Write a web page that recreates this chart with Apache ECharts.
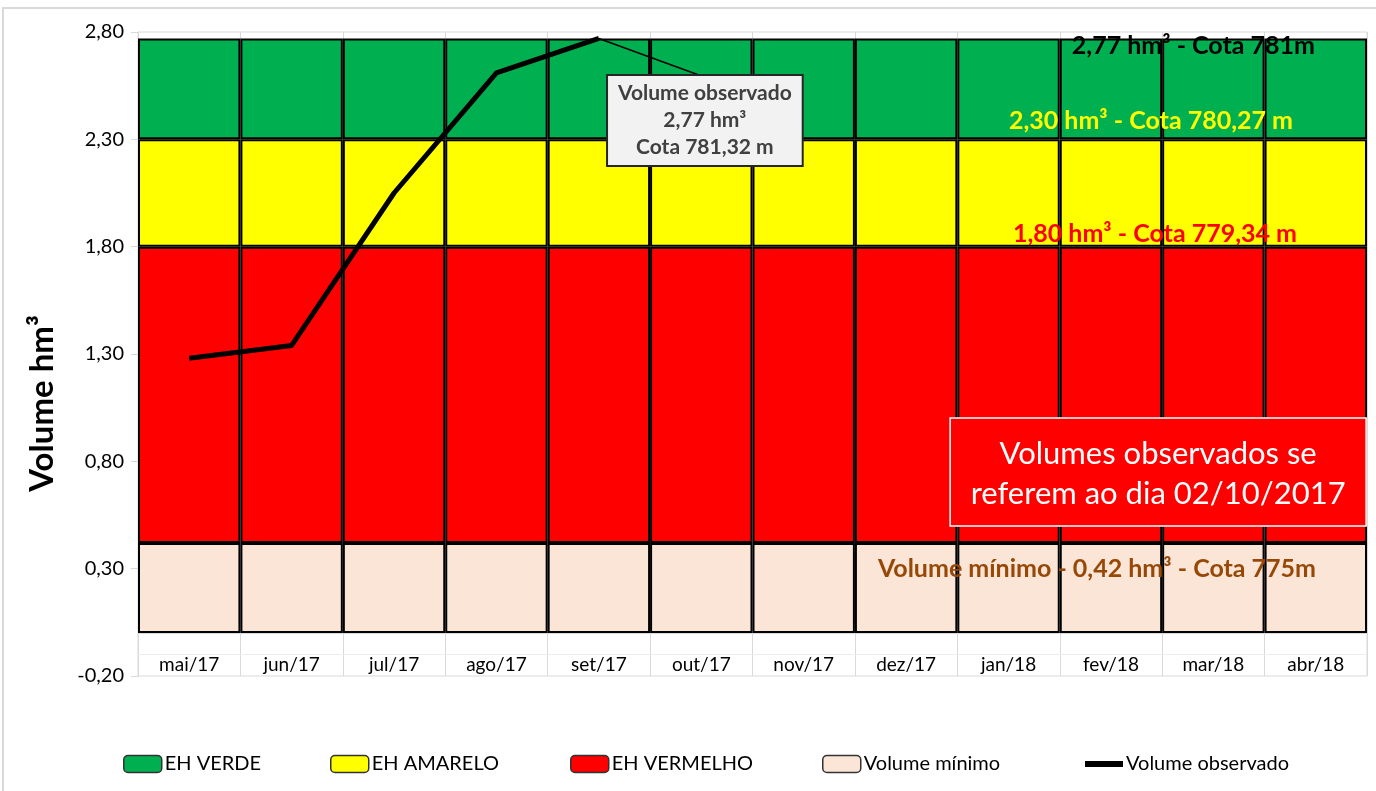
<!DOCTYPE html>
<html>
<head>
<meta charset="utf-8">
<script src="https://cdn.jsdelivr.net/npm/echarts@6/dist/echarts.min.js"></script>
<style>
html, body { margin: 0; padding: 0; background: #fff; }
#chart { width: 1376px; height: 791px; }
</style>
</head>
<body>
<div id="chart"></div>
<script>
// meses
var categories = ['mai/17', 'jun/17', 'jul/17', 'ago/17', 'set/17', 'out/17', 'nov/17', 'dez/17', 'jan/18', 'fev/18', 'mar/18', 'abr/18'];

// faixas empilhadas (hm3)
var volumeMinimo = [0.42, 0.42, 0.42, 0.42, 0.42, 0.42, 0.42, 0.42, 0.42, 0.42, 0.42, 0.42];
var ehVermelho = [1.38, 1.38, 1.38, 1.38, 1.38, 1.38, 1.38, 1.38, 1.38, 1.38, 1.38, 1.38];
var ehAmarelo = [0.50, 0.50, 0.50, 0.50, 0.50, 0.50, 0.50, 0.50, 0.50, 0.50, 0.50, 0.50];
var ehVerde = [0.47, 0.47, 0.47, 0.47, 0.47, 0.47, 0.47, 0.47, 0.47, 0.47, 0.47, 0.47];

// volume observado
var volumeObservado = [1.28, 1.34, 2.05, 2.61, 2.77, null, null, null, null, null, null, null];
var idxObservado = 4; // ponto com o rótulo

// ticks do eixo y
var yTicks = [-0.2, 0.3, 0.8, 1.3, 1.8, 2.3, 2.8];

// legenda: nome e posição horizontal
var legendNames = ['EH VERDE', 'EH AMARELO', 'EH VERMELHO', 'Volume mínimo', 'Volume observado'];
var legendLeft = [118, 325, 565, 817, 1080];

var FONT = 'Lato';

var myChart = echarts.init(document.getElementById('chart'));

function barSerie(name, data, color) {
    return {
        name: name,
        type: 'bar',
        stack: 'faixas',
        barWidth: '100%',
        data: data,
        itemStyle: { color: color, borderColor: '#000', borderWidth: 2 },
        emphasis: { disabled: true }
    };
}

//uma legenda por item para acertar as posições
var legends = legendNames.map(function(name, i) {
    var item = { name: name };
    if (i < 4) item.itemStyle = { borderColor: '#333', borderWidth: 1.5 };
    else {
        item.icon = 'path://M0,0 L10,0 L10,1.6 L0,1.6 Z';
        item.itemStyle = { color: '#000' };
    }
    return {
        bottom: 12,
        left: legendLeft[i],
        itemWidth: 38,
        itemHeight: 17,
        itemGap: 4,
        textStyle: { fontSize: 20, color: '#000', fontFamily: FONT, padding: [0, 0, 0, -2] },
        data: [item]
    };
});

//rótulo só no último ponto observado
var lineData = volumeObservado.map(function(v, i) {
    if (i != idxObservado) return v;
    return {
        value: v,
        label: {
            show: true,
            position: 'inside',
            formatter: 'Volume observado\n2,77 hm³\nCota 781,32 m',
            fontFamily: FONT,
            fontSize: 21,
            fontWeight: 'bold',
            lineHeight: 27,
            color: '#404040',
            align: 'center',
            backgroundColor: '#f2f2f2',
            borderColor: '#262626',
            borderWidth: 2,
            padding: [4, 10]
        }
    };
});

var option = {
    animation: false,
    textStyle: { fontFamily: FONT },
    grid: {
        left: 138, right: 9, top: 32, bottom: 115,
        show: true, borderColor: '#d9d9d9', borderWidth: 1, backgroundColor: 'transparent'
    },
    legend: legends,
    xAxis: {
        type: 'category',
        data: categories,
        boundaryGap: true,
        axisLine: { lineStyle: { color: '#d9d9d9' } },
        axisTick: { show: false },
        axisLabel: { inside: true, margin: 2, fontSize: 19, color: '#000', fontFamily: FONT },
        splitLine: { show: true, lineStyle: { color: '#d9d9d9', width: 1 } }
    },
    yAxis: {
        type: 'value',
        min: -0.2,
        max: 2.8,
        axisLine: { show: true, lineStyle: { color: '#d9d9d9' } },
        axisTick: { show: true, length: 7, lineStyle: { color: '#d9d9d9' }, customValues: yTicks },
        axisLabel: {
            fontSize: 20, color: '#000', margin: 14, fontFamily: FONT,
            customValues: yTicks,
            formatter: function(v) { return v.toFixed(2).replace('.', ','); }
        },
        splitLine: { show: false }
    },
    series: [
        barSerie('Volume mínimo', volumeMinimo, '#fbe5d6'),
        barSerie('EH VERMELHO', ehVermelho, '#ff0000'),
        barSerie('EH AMARELO', ehAmarelo, '#ffff00'),
        barSerie('EH VERDE', ehVerde, '#00b050'),
        {
            name: 'Volume observado',
            type: 'line',
            data: lineData,
            z: 5,
            symbol: 'circle',
            symbolSize: 1,
            showSymbol: true,
            lineStyle: { color: '#000', width: 5 },
            itemStyle: { color: '#000' },
            labelLayout: function(p) {
                if (p.dataIndex != idxObservado) return {};
                return { dx: 106, dy: 82 };
            },
            markLine: {
                silent: true,
                symbol: 'none',
                label: { show: false },
                lineStyle: { color: '#ececec', width: 1, type: 'solid' },
                data: [{ yAxis: -0.1 }]
            },
            emphasis: { disabled: true }
        }
    ]
};

myChart.setOption(option);

//anotações posicionadas a partir das coordenadas dos dados
function px(cat, val) {
    return myChart.convertToPixel({ gridIndex: 0 }, [cat, val]);
}

var pObs = px(categories[idxObservado], volumeObservado[idxObservado]);
var pVerde = px('mar/18', 2.77);
var pAmarelo = px('fev/18', 2.30);
var pVermelho = px('fev/18', 1.80);
var pMinimo = px('fev/18', 0.42);
var pBox = px('dez/17', 1.3);
var pName = px('mai/17', 1.07);

var bandFont = 'bold 25px ' + FONT;

myChart.setOption({
    graphic: [
        {
            type: 'rect', silent: true,
            shape: { x: 3, y: 8, width: 1380, height: 800 },
            style: { fill: 'none', stroke: '#d9d9d9', lineWidth: 2 }
        },
        {
            //linha de chamada do rótulo
            type: 'line', silent: true, z: 3,
            shape: { x1: pObs[0], y1: pObs[1], x2: pObs[0] + 104, y2: pObs[1] + 38 },
            style: { stroke: '#000', lineWidth: 1.5 }
        },
        {
            type: 'text', silent: true, z: 20,
            x: pVerde[0] - 20, y: pVerde[1] - 5,
            style: { text: '2,77 hm³ - Cota 781m', font: bandFont, fill: '#000', align: 'center', verticalAlign: 'top' }
        },
        {
            type: 'text', silent: true, z: 20,
            x: pAmarelo[0] + 40, y: pAmarelo[1] - 6,
            style: { text: '2,30 hm³ - Cota 780,27 m', font: bandFont, fill: '#ffff00', align: 'center', verticalAlign: 'bottom' }
        },
        {
            type: 'text', silent: true, z: 20,
            x: pVermelho[0] + 44, y: pVermelho[1],
            style: { text: '1,80 hm³ - Cota 779,34 m', font: bandFont, fill: '#ff0000', align: 'center', verticalAlign: 'bottom' }
        },
        {
            type: 'text', silent: true, z: 20,
            x: pMinimo[0] - 14, y: pMinimo[1] + 14,
            style: { text: 'Volume mínimo - 0,42 hm³ - Cota 775m', font: bandFont, fill: '#974806', align: 'center', verticalAlign: 'top' }
        },
        {
            type: 'rect', silent: true, z: 20,
            shape: { x: pBox[0] + 44, y: pBox[1] + 64, width: 416, height: 108 },
            style: { fill: '#ff0000', stroke: '#fff', lineWidth: 1.5 }
        },
        {
            type: 'text', silent: true, z: 21,
            x: pBox[0] + 44 + 208, y: pBox[1] + 64 + 56,
            style: {
                text: 'Volumes observados se\nreferem ao dia 02/10/2017',
                font: '31px ' + FONT, lineHeight: 40, fill: '#fff',
                align: 'center', verticalAlign: 'middle'
            }
        },
        {
            type: 'text', silent: true, z: 20,
            x: 42, y: pName[1], rotation: Math.PI / 2,
            style: { text: 'Volume hm³', font: 'bold 33px ' + FONT, fill: '#000', align: 'center', verticalAlign: 'middle' }
        }
    ]
});
</script>
</body>
</html>
